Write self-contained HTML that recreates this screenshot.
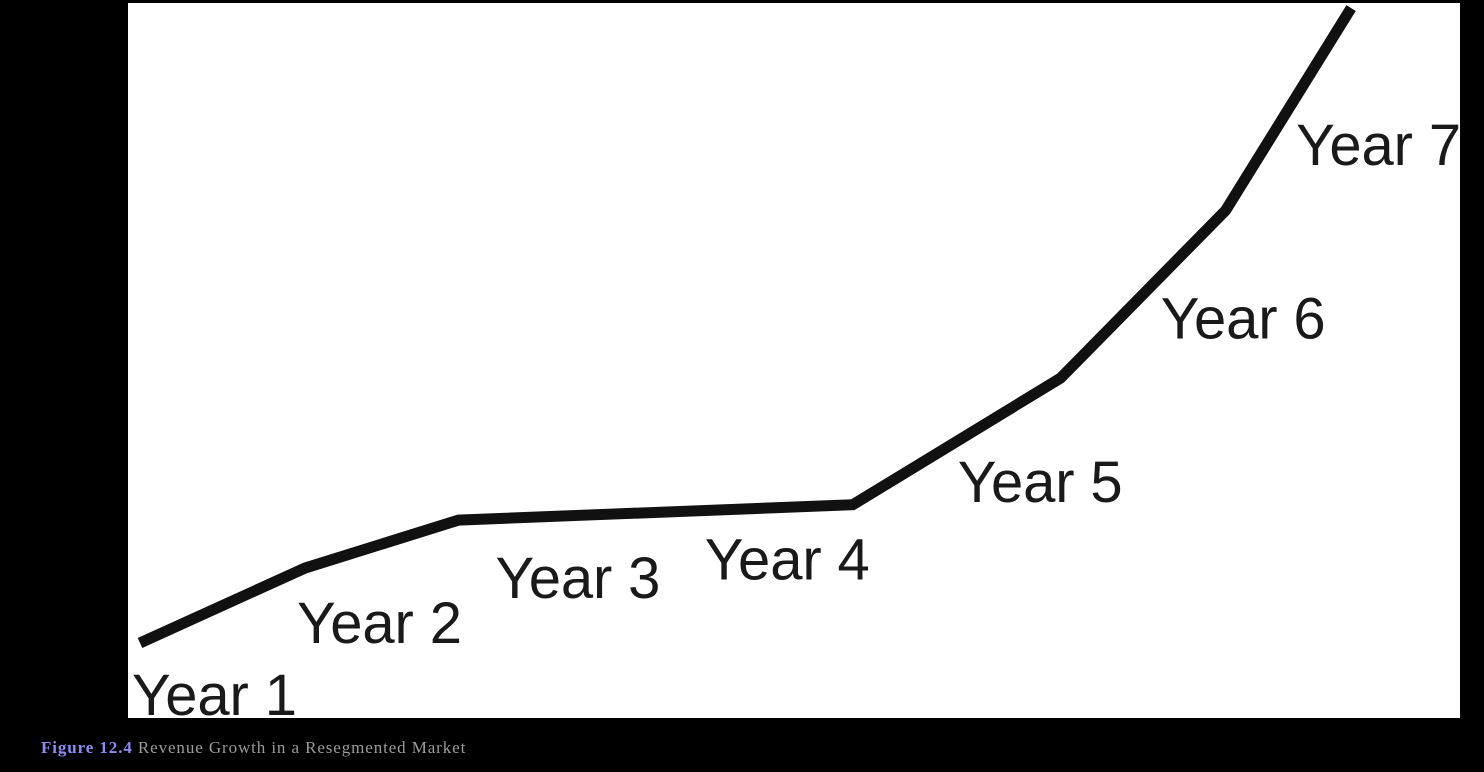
<!DOCTYPE html>
<html><head><meta charset="utf-8"><style>
html,body{margin:0;padding:0;background:#000;width:1484px;height:772px;overflow:hidden}
#cap{position:absolute;left:41px;top:738px;font-family:"Liberation Serif",serif;font-size:17px;letter-spacing:0.9px;color:#9a9a9a}
#cap b{color:#8a8cf2}
</style></head><body>
<svg id="chart" width="1484" height="772" style="position:absolute;left:0;top:0">
<rect x="128" y="3" width="1332" height="715" fill="#fff"/>
<g id="marks"></g>
</svg>
<div id="cap"><b>Figure 12.4</b> Revenue Growth in a Resegmented Market</div>
<script>
const categories = ["Year 1","Year 2","Year 3","Year 4","Year 5","Year 6","Year 7"];
const timePos = [0, 1, 1.93, 4.32, 5.58, 6.58, 7.34];
const revenue = [1.1, 12.8, 20.3, 22.7, 42.5, 68.7, 100.3];
const x = t => 140 + t * 165;
const y = v => 650 - v * 6.4;
const NS = "http://www.w3.org/2000/svg";
const g = document.getElementById("marks");
const line = document.createElementNS(NS, "polyline");


line.setAttribute("points", revenue.map((v,i)=>x(timePos[i])+","+y(v)).join(" "));
line.setAttribute("fill","none");line.setAttribute("stroke","#111");
line.setAttribute("stroke-width","11");line.setAttribute("stroke-linejoin","miter");
g.appendChild(line);
const offs = [[-8,72],[-8,75],[37,78],[-148,75],[-103,124],[-65,128],[-55,157]];
categories.forEach((c,i)=>{
  const t = document.createElementNS(NS,"text");
  
  
  t.setAttribute("x", x(timePos[i]) + offs[i][0]);
  t.setAttribute("y", y(revenue[i]) + offs[i][1]);
  t.setAttribute("font-family","Liberation Sans, sans-serif");
  t.setAttribute("font-size","58");t.setAttribute("fill","#1a1a1a");
  t.setAttribute("textLength","165");
  t.textContent = c; g.appendChild(t);
});
</script>
</body></html>
